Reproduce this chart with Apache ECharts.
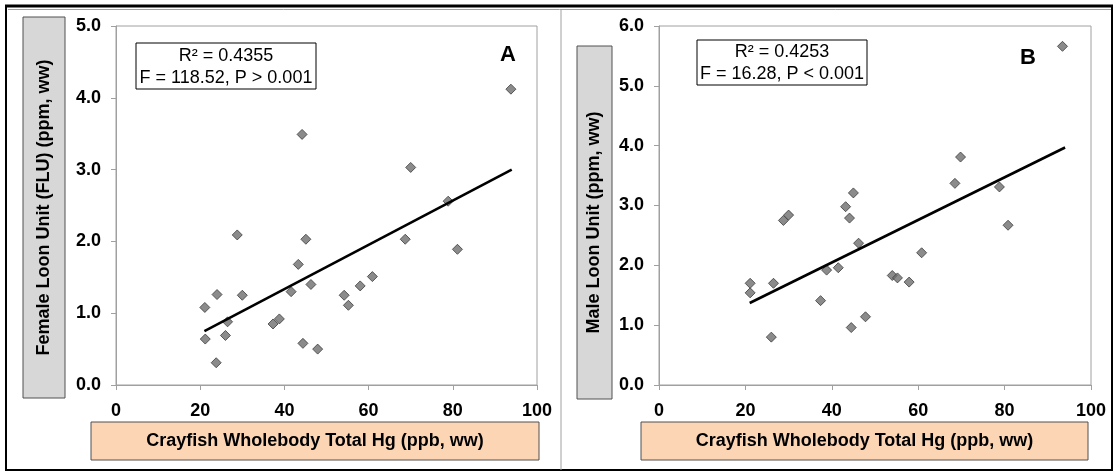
<!DOCTYPE html>
<html>
<head>
<meta charset="UTF-8">
<title>Loon units vs crayfish Hg</title>
<script src="https://cdn.jsdelivr.net/npm/echarts@6/dist/echarts.min.js"></script>
<style>
  html, body { margin: 0; padding: 0; background: #fff; }
  #container { width: 1115px; height: 472px; }
</style>
</head>
<body>
<div id="container"></div>
<script type="text/javascript">
// panel A - female loon unit
var crayfishHgA = [21.1, 21.2, 24.0, 23.8, 26.0, 26.5, 28.8, 30.0, 37.3, 38.8, 41.6, 43.3, 44.2, 44.4,
                   45.1, 46.3, 47.9, 54.2, 55.2, 58.0, 60.9, 68.7, 70.0, 78.9, 81.1, 93.8];
var femaleLU    = [1.08, 0.64, 1.26, 0.31, 0.69, 0.88, 2.09, 1.25, 0.85, 0.92, 1.30, 1.68, 3.49, 0.58,
                   2.03, 1.40, 0.50, 1.25, 1.11, 1.38, 1.51, 2.03, 3.03, 2.56, 1.89, 4.12];
var fitA = [[21, 0.75], [94, 3.0]];

// panel B - male loon unit
var crayfishHgB = [21.1, 21.1, 26.0, 26.5, 28.8, 30.0, 37.4, 38.8, 41.5, 43.2, 44.1, 44.5, 45.0, 46.2,
                   47.8, 54.0, 55.2, 57.9, 60.8, 68.5, 69.8, 78.8, 80.8, 93.4];
var maleLU      = [1.70, 1.54, 0.80, 1.70, 2.75, 2.84, 1.41, 1.92, 1.96, 2.98, 2.79, 0.96, 3.21, 2.37,
                   1.14, 1.83, 1.79, 1.72, 2.21, 3.37, 3.81, 3.31, 2.67, 5.66];
var fitB = [[21, 1.37], [94, 3.97]];

var xTitle = 'Crayfish Wholebody Total Hg (ppb, ww)';
var yTitleA = 'Female Loon Unit (FLU) (ppm, ww)';
var yTitleB = 'Male Loon Unit (ppm, ww)';
var statsA = 'R\u00b2 = 0.4355\nF = 118.52, P > 0.001';
var statsB = 'R\u00b2 = 0.4253\nF = 16.28, P < 0.001';

function pairs(xs, ys) {
    var out = [];
    for (var i = 0; i < xs.length; i++) out.push([xs[i], ys[i]]);
    return out;
}

var font = 'Arial, "Liberation Sans", sans-serif';
var axisGrey = '#a0a0a0';

function xAxisFor(idx) {
    return {
        gridIndex: idx, type: 'value', min: 0, max: 100, interval: 20,
        axisLine: { show: true, lineStyle: { color: axisGrey } },
        axisTick: { show: true, length: 5, lineStyle: { color: axisGrey } },
        splitLine: { show: false },
        axisLabel: { color: '#000', fontFamily: font, fontWeight: 'bold', fontSize: 18, margin: 17 }
    };
}
function yAxisFor(idx, max) {
    return {
        gridIndex: idx, type: 'value', min: 0, max: max, interval: 1,
        axisLine: { show: true, lineStyle: { color: axisGrey } },
        axisTick: { show: true, length: 5, lineStyle: { color: axisGrey } },
        splitLine: { show: false },
        axisLabel: { color: '#000', fontFamily: font, fontWeight: 'bold', fontSize: 18, margin: 15,
                     formatter: function (v) { return v.toFixed(1); } }
    };
}
function dots(idx, data) {
    return {
        type: 'scatter', xAxisIndex: idx, yAxisIndex: idx, data: data,
        symbol: 'diamond', symbolSize: 10, z: 3,
        itemStyle: { color: '#6e6e6e', borderColor: '#3c3c3c', borderWidth: 1 }
    };
}
function trend(idx, data) {
    return {
        type: 'line', xAxisIndex: idx, yAxisIndex: idx, data: data,
        symbol: 'none', z: 4, lineStyle: { color: '#000', width: 2.6 }
    };
}
function titleBox(x, y, w, h, fill, label, vertical) {
    return {
        type: 'group',
        children: [
            { type: 'rect', shape: { x: x, y: y, width: w, height: h },
              style: { fill: fill, stroke: '#505050', lineWidth: 1 } },
            { type: 'text', x: x + w / 2, y: y + h / 2, rotation: vertical ? Math.PI / 2 : 0,
              style: { text: label, fill: '#000', font: 'bold 18px ' + font,
                       align: 'center', verticalAlign: 'middle' } }
        ]
    };
}
function statBox(x, y, w, h, label) {
    return {
        type: 'group', z: 10,
        children: [
            { type: 'rect', z: 10, shape: { x: x, y: y, width: w, height: h },
              style: { fill: '#fff', stroke: '#000', lineWidth: 1 } },
            { type: 'text', z: 11, x: x + w / 2, y: y + h / 2 + 1,
              style: { text: label, fill: '#000', font: '18px ' + font, lineHeight: 22,
                       align: 'center', verticalAlign: 'middle' } }
        ]
    };
}

var myChart = echarts.init(document.getElementById('container'), null, { renderer: 'canvas' });
var option = {
    animation: false,
    backgroundColor: '#fff',
    grid: [
        { left: 116, top: 26, width: 421, height: 359, show: true, borderColor: axisGrey, borderWidth: 1 },
        { left: 659, top: 26, width: 432, height: 359, show: true, borderColor: axisGrey, borderWidth: 1 }
    ],
    xAxis: [xAxisFor(0), xAxisFor(1)],
    yAxis: [yAxisFor(0, 5), yAxisFor(1, 6)],
    series: [
        dots(0, pairs(crayfishHgA, femaleLU)),
        trend(0, fitA),
        dots(1, pairs(crayfishHgB, maleLU)),
        trend(1, fitB)
    ],
    graphic: [
        // frame
        { type: 'rect', shape: { x: 6, y: 6, width: 1106, height: 464 },
          style: { fill: 'none', stroke: '#000', lineWidth: 2 } },
        { type: 'line', shape: { x1: 5, y1: 6, x2: 1113, y2: 6 }, style: { stroke: '#000', lineWidth: 3 } },
        { type: 'line', shape: { x1: 8, y1: 9.5, x2: 1111, y2: 9.5 }, style: { stroke: '#a0a0a0', lineWidth: 1 } },
        { type: 'line', shape: { x1: 561, y1: 9, x2: 561, y2: 470 }, style: { stroke: '#a0a0a0', lineWidth: 1 } },
        // axis title boxes
        titleBox(23, 17, 42, 381, '#d7d7d7', yTitleA, true),
        titleBox(91, 422, 448, 38, '#fcd5b5', xTitle, false),
        titleBox(577, 46, 35, 353, '#d7d7d7', yTitleB, true),
        titleBox(641, 422, 447, 38, '#fcd5b5', xTitle, false),
        // stats
        statBox(136, 43, 180, 46, statsA),
        statBox(697, 40, 170, 45, statsB),
        { type: 'text', x: 508, y: 55, z: 10,
          style: { text: 'A', fill: '#000', font: 'bold 22px ' + font, align: 'center', verticalAlign: 'middle' } },
        { type: 'text', x: 1028, y: 58, z: 10,
          style: { text: 'B', fill: '#000', font: 'bold 22px ' + font, align: 'center', verticalAlign: 'middle' } }
    ]
};
myChart.setOption(option);
</script>
</body>
</html>
